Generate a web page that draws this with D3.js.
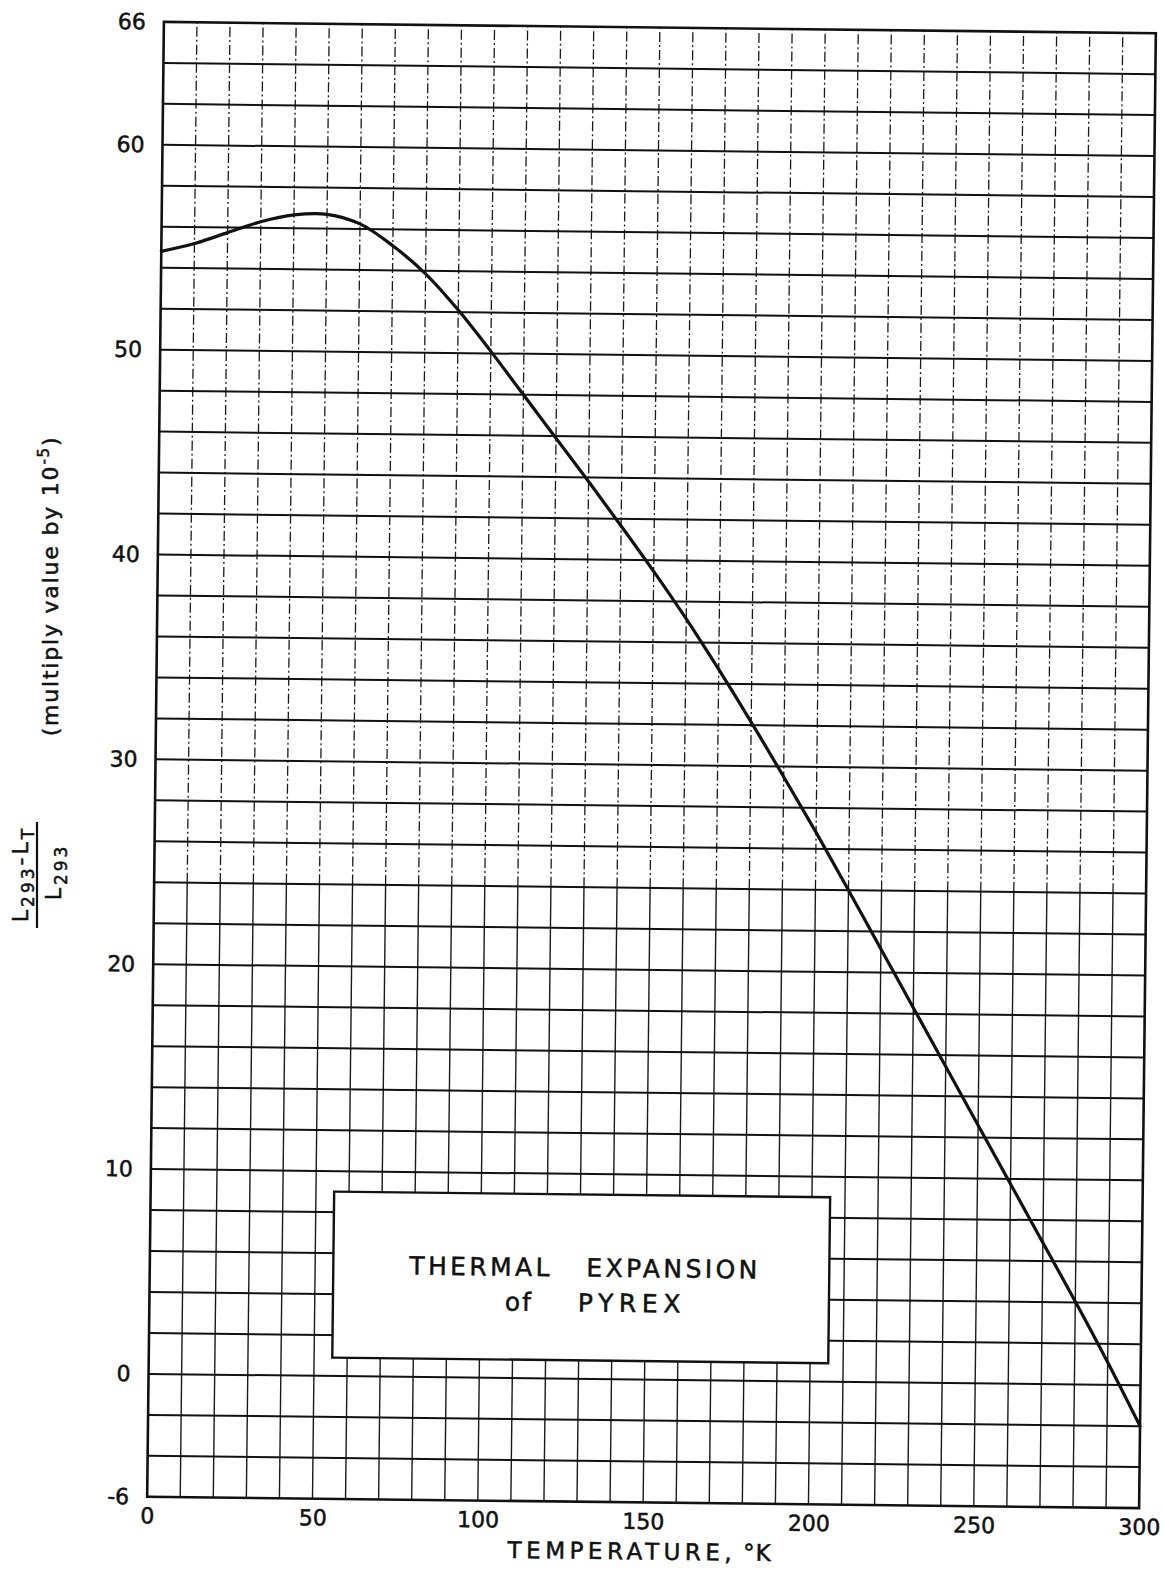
<!DOCTYPE html>
<html>
<head>
<meta charset="utf-8">
<script src="https://cdn.jsdelivr.net/npm/d3@7"></script>
<style>
  html, body { margin: 0; padding: 0; background: #fff; }
  svg { display: block; }
  text { font-family: "DejaVu Sans", "Liberation Sans", sans-serif; fill: #111; stroke: #111; stroke-width: 0.5px; }
</style>
</head>
<body>
<svg id="chart" width="1164" height="1574"></svg>
<script>
// ---- data ----
const temperatures = [0, 10, 20, 30, 40, 50, 60, 70, 80, 90, 100, 110, 120, 130, 140, 150,
  160, 170, 180, 190, 200, 210, 220, 230, 240, 250, 260, 270, 280, 290, 300];
const expansion = [54.8, 55.2, 55.75, 56.3, 56.65, 56.7, 56.25, 55.2, 53.85, 52.1, 50.1, 48.0,
  45.9, 43.8, 41.65, 39.45, 37.15, 34.7, 32.15, 29.5, 26.8, 24.0, 21.15, 18.3, 15.45, 12.6, 9.75,
  6.9, 4.05, 1.1, -2.0];
const xTickLabels = [0, 50, 100, 150, 200, 250, 300];
const yTickLabels = [-6, 0, 10, 20, 30, 40, 50, 60, 66];
const xDomain = [0, 300];
const yDomain = [-6, 66];
const xGridStep = 10;
const yGridStep = 2;
const titleWords = [["THERMAL", "EXPANSION"], ["of", "PYREX"]];
const xAxisTitleWords = ["TEMPERATURE,", "\u00B0K"];

// ---- layout ----
(function () {
const svg = d3.select("#chart");
svg.append("rect").attr("width", 1164).attr("height", 1574).attr("fill", "#fff");

const pL = 155.5, pR = 1147.5, pT = 27.5, pB = 1502.5;
const cx = (pL + pR) / 2, cy = (pT + pB) / 2;
const g = svg.append("g").attr("transform", `rotate(0.65 ${cx} ${cy})`);

const x = d3.scaleLinear().domain(xDomain).range([pL, pR]);
const y = d3.scaleLinear().domain(yDomain).range([pB, pT]);

const vTicks = d3.range(xDomain[0] + xGridStep, xDomain[1], xGridStep);
// vertical grid: broken (dashed) in the upper part, solid below
g.append("g").selectAll("line")
  .data(vTicks)
  .join("line")
  .attr("x1", d => x(d)).attr("x2", d => x(d))
  .attr("y1", y(24)).attr("y2", y(yDomain[1]))
  .attr("stroke", "#1a1a1a").attr("stroke-width", 1.3)
  .attr("stroke-dasharray", "10,3,2,3");
g.append("g").selectAll("line")
  .data(vTicks)
  .join("line")
  .attr("x1", d => x(d)).attr("x2", d => x(d))
  .attr("y1", y(yDomain[0])).attr("y2", y(24))
  .attr("stroke", "#1a1a1a").attr("stroke-width", 1.4);

// horizontal grid
g.append("g").selectAll("line")
  .data(d3.range(yDomain[0] + yGridStep, yDomain[1], yGridStep))
  .join("line")
  .attr("x1", x(xDomain[0])).attr("x2", x(xDomain[1]))
  .attr("y1", d => y(d)).attr("y2", d => y(d))
  .attr("stroke", "#111").attr("stroke-width", 2);

// frame
g.append("rect")
  .attr("x", x(xDomain[0])).attr("y", y(yDomain[1]))
  .attr("width", x(xDomain[1]) - x(xDomain[0]))
  .attr("height", y(yDomain[0]) - y(yDomain[1]))
  .attr("fill", "none").attr("stroke", "#111").attr("stroke-width", 2.6);

// curve
const pts = temperatures.map((t, i) => [t, expansion[i]]);
g.append("path")
  .datum(pts)
  .attr("d", d3.line().x(d => x(d[0])).y(d => y(d[1])).curve(d3.curveCatmullRom.alpha(0.5)))
  .attr("fill", "none").attr("stroke", "#111").attr("stroke-width", 3.2)
  .attr("stroke-linejoin", "round").attr("stroke-linecap", "round");

// axes (labels only)
const yAxis = g.append("g").attr("transform", `translate(${x(0)},0)`)
  .call(d3.axisLeft(y).tickValues(yTickLabels).tickSize(0).tickPadding(18).tickFormat(d => String(d)));
yAxis.select(".domain").remove();
yAxis.attr("font-family", null).attr("font-size", null);
yAxis.selectAll("text").style("font-size", "22px");

const xAxis = g.append("g").attr("transform", `translate(0,${y(-6)})`)
  .call(d3.axisBottom(x).tickValues(xTickLabels).tickSize(0).tickPadding(11));
xAxis.select(".domain").remove();
xAxis.attr("font-family", null).attr("font-size", null);
xAxis.selectAll("text").style("font-size", "22px");

// x axis title
const xt = g.append("text")
  .attr("y", y(-6) + 57)
  .style("font-size", "23px");
xt.append("tspan").attr("x", x(109.2)).style("letter-spacing", "4.5px").text(xAxisTitleWords[0]);
xt.append("tspan").attr("x", x(180.4)).style("letter-spacing", "1px").text(xAxisTitleWords[1]);

// title box
const bx0 = x(55.5), bx1 = x(205.5), by0 = y(9), by1 = y(0.9);
g.append("rect")
  .attr("x", bx0).attr("y", by0).attr("width", bx1 - bx0).attr("height", by1 - by0)
  .attr("fill", "#fff").attr("stroke", "#111").attr("stroke-width", 2.4);
const t1 = g.append("text").attr("y", by0 + 82).style("font-size", "25px");
t1.append("tspan").attr("x", bx0 + 76).style("letter-spacing", "3.4px").text(titleWords[0][0]);
t1.append("tspan").attr("x", bx0 + 253).style("letter-spacing", "3.4px").text(titleWords[0][1]);
const t2 = g.append("text").attr("y", by0 + 117).style("font-size", "25px");
t2.append("tspan").attr("x", bx0 + 172).style("letter-spacing", "2px").text(titleWords[1][0]);
t2.append("tspan").attr("x", bx0 + 245).style("letter-spacing", "5.6px").text(titleWords[1][1]);

// y axis label: (multiply value by 10^-5)
const yl = svg.append("text")
  .attr("transform", "translate(58,586) rotate(-90)")
  .attr("text-anchor", "middle")
  .style("font-size", "22px").style("letter-spacing", "1.8px");
yl.append("tspan").text("(multiply value by 10");
yl.append("tspan").attr("dy", -9).style("font-size", "15px").text("-5");
yl.append("tspan").attr("dy", 9).text(")");

// fraction label
const fr = svg.append("g").attr("transform", "translate(37,875) rotate(-90)");
fr.append("line").attr("x1", -53).attr("x2", 53).attr("y1", 0).attr("y2", 0)
  .attr("stroke", "#111").attr("stroke-width", 2.2);
const num = fr.append("text").attr("x", 1).attr("y", -9).attr("text-anchor", "middle")
  .style("font-size", "22px").style("letter-spacing", "3px");
num.append("tspan").text("L");
num.append("tspan").attr("dy", 6).style("font-size", "17px").text("293");
num.append("tspan").attr("dy", -6).text("-L");
num.append("tspan").attr("dy", 6).style("font-size", "17px").text("T");
const den = fr.append("text").attr("x", 3).attr("y", 24).attr("text-anchor", "middle")
  .style("font-size", "22px").style("letter-spacing", "3px");
den.append("tspan").text("L");
den.append("tspan").attr("dy", 6).style("font-size", "17px").text("293");
})();
</script>
</body>
</html>
